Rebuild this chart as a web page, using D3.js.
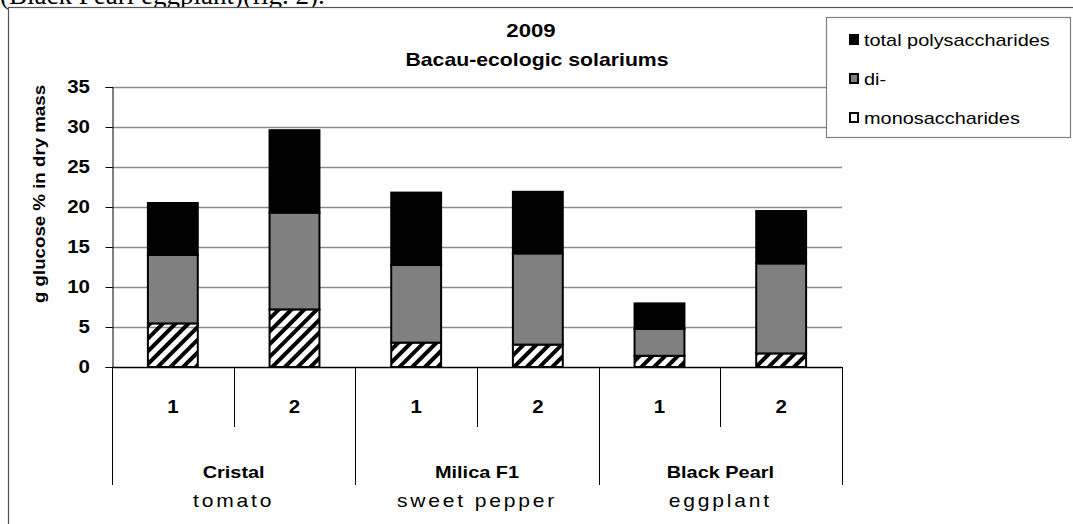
<!DOCTYPE html>
<html>
<head>
<meta charset="utf-8">
<script src="https://cdn.jsdelivr.net/npm/d3@7"></script>
<style>
  body { margin: 0; background: #fff; }
  svg { display: block; font-family: "Liberation Sans", Arial, sans-serif; }
</style>
</head>
<body>
<div id="chart"></div>
<script>
// data (g glucose % in dry mass)
const varieties = ["Cristal", "Milica F1", "Black Pearl"];
const species = ["tomato", "sweet pepper", "eggplant"];
const subLabels = ["1", "2"];
const mono = [5.45, 7.2, 3.05, 2.8, 1.4, 1.7];
const di = [8.55, 12.1, 9.7, 11.4, 3.35, 11.25];
const poly = [6.5, 10.3, 9.05, 7.7, 3.2, 6.55];
const yTicks = [0, 5, 10, 15, 20, 25, 30, 35];
const seriesNames = ["monosaccharides", "di-", "total polysaccharides"];

const width = 1073, height = 524;
const margin = { left: 112, right: 231, top: 87, bottom: 157 };
// the original text is a bit wider than Liberation Sans
const stretch = 1.17;

const svg = d3.select("#chart").append("svg")
    .attr("width", width)
    .attr("height", height);

// text helper: stretched horizontally around its anchor
function label(parent, x, y, str, size, opts = {}) {
    const rot = opts.rotate ? ` rotate(${opts.rotate})` : "";
    return parent.append("text")
        .attr("transform", `translate(${x},${y})${rot} scale(${opts.stretch || stretch},1)`)
        .attr("text-anchor", opts.anchor || "start")
        .style("font-size", size + "px")
        .style("font-weight", opts.bold ? "bold" : "normal")
        .style("letter-spacing", (opts.spacing || 0) + "px")
        .text(str);
}

// hatch pattern for monosaccharides
const defs = svg.append("defs");
defs.append("pattern")
    .attr("id", "hatch")
    .attr("patternUnits", "userSpaceOnUse")
    .attr("width", 9)
    .attr("height", 9)
    .attr("patternTransform", "rotate(45)")
  .append("rect")
    .attr("x", 0).attr("y", 0)
    .attr("width", 4).attr("height", 9)
    .attr("fill", "#000");

// cropped text from the page above the figure
svg.append("text")
    .attr("x", 0)
    .attr("y", 4)
    .style("font-family", "'Liberation Serif', 'Times New Roman', serif")
    .style("font-size", "27px")
    .text("(Black Pearl eggplant)(fig. 2).");

// chart frame
svg.append("rect")
    .attr("x", 8.5).attr("y", 7.5)
    .attr("width", 1100).attr("height", 600)
    .attr("fill", "#fff")
    .attr("stroke", "#555")
    .attr("stroke-width", 1.2);

// stacked data
const keys = ["mono", "di", "poly"];
const rows = mono.map((m, i) => ({ idx: i, mono: m, di: di[i], poly: poly[i] }));
const stacked = d3.stack().keys(keys)(rows);
const fills = { mono: "url(#hatch)", di: "#808080", poly: "#000" };

const x = d3.scaleBand()
    .domain(rows.map(d => d.idx))
    .range([margin.left, width - margin.right])
    .paddingInner(0.59)
    .paddingOuter(0.295);

const y = d3.scaleLinear()
    .domain([0, 35])
    .range([height - margin.bottom, margin.top]);

// gridlines
svg.append("g")
    .selectAll("line")
    .data(yTicks.filter(t => t > 0))
    .enter()
    .append("line")
        .attr("x1", margin.left)
        .attr("x2", width - margin.right)
        .attr("y1", d => Math.round(y(d)) + 0.5)
        .attr("y2", d => Math.round(y(d)) + 0.5)
        .attr("stroke", "#8c8c8c")
        .attr("stroke-width", 1.3);

// y axis
const yAxis = svg.append("g")
    .attr("transform", `translate(${margin.left + 0.5},0)`)
    .call(d3.axisLeft(y).tickValues(yTicks).tickSize(7).tickFormat(""));
yAxis.select(".domain").attr("stroke", "#000");
yAxis.selectAll(".tick line").attr("stroke", "#000");
const yLabels = svg.append("g");
yTicks.forEach(t => {
    label(yLabels, 90, y(t) + 6, String(t), 17.5, { bold: true, anchor: "end" });
});

// y axis title
label(svg, 45, 194, "g glucose % in dry mass", 17, { bold: true, anchor: "middle", rotate: -90, stretch: 1.1 });

// bars
svg.append("g")
    .selectAll("g")
    .data(stacked)
    .enter()
    .append("g")
        .attr("fill", d => fills[d.key])
    .selectAll("rect")
    .data(d => d)
    .enter()
    .append("rect")
        .attr("x", d => x(d.data.idx))
        .attr("y", d => y(d[1]))
        .attr("width", x.bandwidth())
        .attr("height", d => y(d[0]) - y(d[1]))
        .attr("stroke", "#000")
        .attr("stroke-width", 2);

// category axis
const x0 = margin.left, x1 = width - margin.right;
const step = (x1 - x0) / mono.length;
const base = y(0);
const catAxis = svg.append("g").attr("stroke", "#000").attr("stroke-width", 1);
catAxis.append("line")
    .attr("x1", x0).attr("x2", x1)
    .attr("y1", base + 0.5).attr("y2", base + 0.5)
    .attr("stroke-width", 1.3);
d3.range(mono.length + 1).forEach(i => {
    const long = i % 2 === 0;
    catAxis.append("line")
        .attr("x1", Math.round(x0 + i * step) + 0.5)
        .attr("x2", Math.round(x0 + i * step) + 0.5)
        .attr("y1", base)
        .attr("y2", long ? 485 : 427);
});

// sub labels 1 / 2
const subG = svg.append("g");
rows.forEach(d => {
    label(subG, x(d.idx) + x.bandwidth() / 2, 413, subLabels[d.idx % 2], 17.5, { bold: true, anchor: "middle" });
});

// variety and species labels
varieties.forEach((v, i) => {
    const cx = x0 + (i * 2 + 1) * step;
    label(svg, cx, 478, v, 17, { bold: true, anchor: "middle" });
    label(svg, cx, 507, species[i], 18, { anchor: "middle", spacing: 2.4 });
});

// titles
label(svg, 531, 37, "2009", 18.5, { bold: true, anchor: "middle", stretch: 1.2 });
label(svg, 537, 66, "Bacau-ecologic solariums", 18, { bold: true, anchor: "middle", stretch: 1.18 });

// legend
const legend = svg.append("g");
legend.append("rect")
    .attr("x", 826.5).attr("y", 17.5)
    .attr("width", 244).attr("height", 120)
    .attr("fill", "#fff")
    .attr("stroke", "#7f7f7f")
    .attr("stroke-width", 1.2);
const legendItems = [
    { name: seriesNames[2], fill: "#000" },
    { name: seriesNames[1], fill: "#808080" },
    { name: seriesNames[0], fill: "#fff" }
];
legendItems.forEach((d, i) => {
    const ly = 40 + i * 39;
    legend.append("rect")
        .attr("x", 850).attr("y", ly - 5)
        .attr("width", 8).attr("height", 9)
        .attr("fill", d.fill)
        .attr("stroke", "#000")
        .attr("stroke-width", 2);
    label(legend, 864, ly + 5.5, d.name, 17);
});
</script>
</body>
</html>
